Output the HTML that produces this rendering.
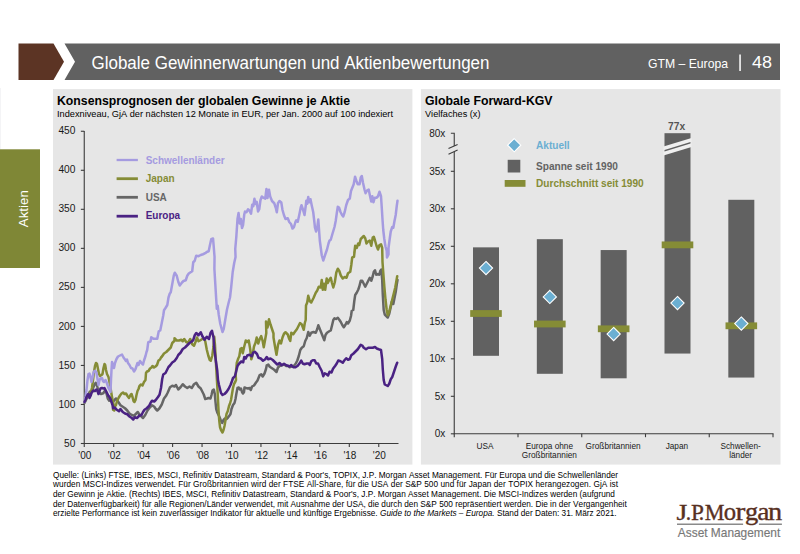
<!DOCTYPE html>
<html><head><meta charset="utf-8"><title>Globale Gewinnerwartungen und Aktienbewertungen</title>
<style>
html,body{margin:0;padding:0;background:#fff;}
body{width:800px;height:554px;overflow:hidden;position:relative;font-family:"Liberation Sans",sans-serif;}
svg{position:absolute;left:0;top:0;display:block;}
text{font-family:"Liberation Sans",sans-serif;font-kerning:none;}
.serif{font-family:"Liberation Serif",serif;}
.b{font-weight:bold;}
.ax{stroke:#3c3c3c;stroke-width:1.1;fill:none;}
.ln{fill:none;stroke-width:2.5;stroke-linejoin:round;stroke-linecap:round;}
</style></head><body>
<svg width="800" height="554" viewBox="0 0 800 554">
<rect x="0" y="0" width="800" height="554" fill="#ffffff"/>
<polygon points="18.5,43.5 53.5,43.5 64,61.75 53.5,80 18.5,80" fill="#5c3424"/>
<polygon points="64.5,43.5 780,43.5 780,80 64.5,80 75,61.75" fill="#616161"/>
<text x="91.5" y="68.7" font-size="17.5" fill="#ffffff" textLength="398" lengthAdjust="spacingAndGlyphs">Globale Gewinnerwartungen und Aktienbewertungen</text>
<text x="648" y="67.6" font-size="13" fill="#ffffff" textLength="80" lengthAdjust="spacingAndGlyphs">GTM – Europa</text>
<rect x="739.3" y="54.5" width="1.5" height="16.5" fill="#ffffff"/>
<text x="752" y="68" font-size="17.2" fill="#ffffff" textLength="20" lengthAdjust="spacingAndGlyphs">48</text>
<rect x="0" y="88" width="1" height="61.3" fill="#f4f4f6"/>
<rect x="0" y="149.3" width="40" height="118.7" fill="#7f8736"/>
<text transform="translate(27.5,227.2) rotate(-90)" font-size="13.3" fill="#ffffff" textLength="37" lengthAdjust="spacingAndGlyphs">Aktien</text>
<rect x="53" y="89.1" width="359.4" height="375.5" fill="#e6e6e6"/>
<rect x="420.9" y="89.1" width="359.6" height="375.5" fill="#e6e6e6"/>
<text x="57" y="104.8" font-size="12.3" class="b" fill="#000" textLength="293" lengthAdjust="spacingAndGlyphs">Konsensprognosen der globalen Gewinne je Aktie</text>
<text x="57" y="117.2" font-size="9.2" fill="#000" textLength="336" lengthAdjust="spacingAndGlyphs">Indexniveau, GjA der nächsten 12 Monate in EUR, per Jan. 2000 auf 100 indexiert</text>
<path class="ax" d="M84.25,130.95999999999998 V443.5 H398.5"/>
<path class="ax" d="M80.85,443.50 H84.25"/>
<text x="75.4" y="446.60" font-size="10.2" fill="#1a1a1a" text-anchor="end">50</text>
<path class="ax" d="M80.85,404.47 H84.25"/>
<text x="75.4" y="407.57" font-size="10.2" fill="#1a1a1a" text-anchor="end">100</text>
<path class="ax" d="M80.85,365.44 H84.25"/>
<text x="75.4" y="368.54" font-size="10.2" fill="#1a1a1a" text-anchor="end">150</text>
<path class="ax" d="M80.85,326.41 H84.25"/>
<text x="75.4" y="329.51" font-size="10.2" fill="#1a1a1a" text-anchor="end">200</text>
<path class="ax" d="M80.85,287.38 H84.25"/>
<text x="75.4" y="290.48" font-size="10.2" fill="#1a1a1a" text-anchor="end">250</text>
<path class="ax" d="M80.85,248.35 H84.25"/>
<text x="75.4" y="251.45" font-size="10.2" fill="#1a1a1a" text-anchor="end">300</text>
<path class="ax" d="M80.85,209.32 H84.25"/>
<text x="75.4" y="212.42" font-size="10.2" fill="#1a1a1a" text-anchor="end">350</text>
<path class="ax" d="M80.85,170.29 H84.25"/>
<text x="75.4" y="173.39" font-size="10.2" fill="#1a1a1a" text-anchor="end">400</text>
<path class="ax" d="M80.85,131.26 H84.25"/>
<text x="75.4" y="134.36" font-size="10.2" fill="#1a1a1a" text-anchor="end">450</text>
<path class="ax" d="M84.25,443.5 v3.4"/>
<text x="84.85" y="459.4" font-size="10" fill="#1a1a1a" text-anchor="middle">'00</text>
<path class="ax" d="M113.70,443.5 v3.4"/>
<text x="114.30" y="459.4" font-size="10" fill="#1a1a1a" text-anchor="middle">'02</text>
<path class="ax" d="M143.15,443.5 v3.4"/>
<text x="143.75" y="459.4" font-size="10" fill="#1a1a1a" text-anchor="middle">'04</text>
<path class="ax" d="M172.60,443.5 v3.4"/>
<text x="173.20" y="459.4" font-size="10" fill="#1a1a1a" text-anchor="middle">'06</text>
<path class="ax" d="M202.05,443.5 v3.4"/>
<text x="202.65" y="459.4" font-size="10" fill="#1a1a1a" text-anchor="middle">'08</text>
<path class="ax" d="M231.50,443.5 v3.4"/>
<text x="232.10" y="459.4" font-size="10" fill="#1a1a1a" text-anchor="middle">'10</text>
<path class="ax" d="M260.95,443.5 v3.4"/>
<text x="261.55" y="459.4" font-size="10" fill="#1a1a1a" text-anchor="middle">'12</text>
<path class="ax" d="M290.40,443.5 v3.4"/>
<text x="291.00" y="459.4" font-size="10" fill="#1a1a1a" text-anchor="middle">'14</text>
<path class="ax" d="M319.85,443.5 v3.4"/>
<text x="320.45" y="459.4" font-size="10" fill="#1a1a1a" text-anchor="middle">'16</text>
<path class="ax" d="M349.30,443.5 v3.4"/>
<text x="349.90" y="459.4" font-size="10" fill="#1a1a1a" text-anchor="middle">'18</text>
<path class="ax" d="M378.75,443.5 v3.4"/>
<text x="379.35" y="459.4" font-size="10" fill="#1a1a1a" text-anchor="middle">'20</text>
<path class="ln" stroke="#666666" d="M84.5,403 L87.5,397 L89.75,391.75 L92,391 L94.25,385 L95.75,382.75 L97.25,386.5 L98.75,391.75 L101,394 L103.25,393.25 L104.75,391 L106.25,392.5 L107.75,398.5 L109.25,400.75 L110.75,400 L112.25,403 L114.5,400 L116,398.5 L117.5,400.75 L119,403 L120.5,405.25 L122.75,406.75 L125,408.25 L127.25,410.5 L129.5,413.5 L131.75,415 L134,415.75 L136.25,413.5 L137.75,412 L139.25,414.25 L141.5,416.5 L143,418 L145.25,415 L147.5,410.5 L149.75,407.5 L152,405.25 L154.25,406.75 L155.75,409 L157.25,410.5 L159.5,408.25 L161.75,404.5 L164,398.5 L166.25,395.5 L167.75,392.5 L170,387.25 L172.25,385.75 L174.5,386.5 L176,385 L178.25,389.5 L180.5,387.25 L182.75,384.25 L185,386.5 L187.25,388 L189.5,386.5 L191.75,388 L194,384.25 L196.25,382.75 L198.5,386.5 L200.75,388.5 L202.25,391.5 L203.75,394.5 L205.25,399 L207,398.5 L208.5,398 L210.5,398.5 L211.5,395 L212.5,390.5 L213.8,389.5 L214.8,394 L215.5,402 L216.2,409 L217.5,413 L219,416 L220.5,419.5 L222.2,423 L223.5,420 L225,418.5 L226.5,419 L228,417.5 L229.5,415.5 L230.5,414 L231.5,409 L233,405 L234.5,403 L235.5,399 L236.5,393 L237.5,388 L238.8,387.5 L239.8,389.5 L241,388.5 L242,392 L243,393.5 L244,392 L244.5,387.5 L246,388 L248,388.5 L249.5,388 L250.8,390 L252,386.5 L254,385.5 L256,382.5 L257.5,380.5 L259.7,375 L261.2,374.25 L262.7,376.5 L264.5,373.5 L266,369 L266.75,365.25 L268.25,364.5 L269.75,366.75 L272,368.25 L274.25,369.75 L276.5,372 L278,367.5 L279.5,366 L281.75,365.25 L284,364.5 L286.25,366 L288.5,366 L289.5,367.25 L291.75,366.5 L294,365.75 L295.8,363.5 L297.3,360.5 L298.8,356 L300.3,350 L301.8,347.75 L303.75,346.25 L305.25,341 L306.75,338 L308.25,332 L309.75,335.75 L311.25,332.75 L313.5,332 L315.75,332.75 L317.25,329 L318.3,325.25 L319.8,329 L321.3,332.75 L322.8,336.5 L324.3,340.25 L325.5,335 L327,332.75 L329.25,331.25 L330.75,330.5 L332.25,324.5 L333.3,320 L334.5,318.25 L336,319 L337.8,317.8 L339.3,319.75 L340.8,322 L342.3,325 L343.8,327.25 L345.3,325 L346.8,322 L348,323.5 L349.8,320.5 L351,316 L351.75,310.75 L353.25,310 L354.3,301 L355.2,295 L356.7,292.75 L358.2,289.75 L359.25,286.75 L360.75,280.75 L362.25,280.75 L363.75,283.75 L365.25,286.75 L366.75,283.75 L368.25,280.75 L369.75,277.75 L371.25,280.75 L372.75,276.25 L373.8,271.75 L375,270.25 L376.2,274.75 L377.7,274 L379.2,274.75 L380.25,271 L381.3,269.5 L382.2,280 L382.8,295 L383.7,310 L384.75,314.5 L386.25,316 L387.75,317.5 L389.25,313.75 L390.75,307 L391.8,301.75 L393.3,304 L394.5,298 L395.7,292 L396.75,284.5 L397.5,280"/>
<path class="ln" stroke="#858c36" d="M84.5,402 L86,398 L87.5,395 L89,394 L90.5,393 L92,388 L93,380 L94,372 L95,366 L96,363 L97,364 L98,369 L99,374 L100,376 L101.5,375 L102.5,374 L103.5,368 L104.5,364 L105.2,365 L106,370 L107,374 L108.5,377 L109.5,382 L110.5,388 L111.5,394 L112.5,400 L113.5,404 L113,409.75 L114.2,410.5 L115.25,406 L116,405 L117,401 L118.5,398 L120,395.5 L121.5,393.5 L123,392.5 L124.5,394 L126,393.5 L127.5,396 L129,398 L130.5,395 L131.5,394 L132.5,397 L133.5,401 L134.5,402 L135.5,400 L136.5,395 L137.5,391 L138.5,389 L139.5,386 L141,384.5 L142.5,385.5 L144,382 L145.5,380 L146,373 L147,371.5 L148.5,371 L150,368.5 L151.5,367.5 L152.5,366 L154,367.5 L155.5,366.5 L157,365 L158.5,360.5 L160,359.5 L161,357.5 L162,356.5 L164,353.5 L166.25,352 L168.5,349.75 L170.75,347.5 L172.25,343 L174.5,340.75 L174.5,338.25 L176.75,340.5 L179,340.5 L181.25,339.75 L182.75,341.25 L184.25,339 L186.2,342 L188,342.75 L190.25,339 L192.2,344.25 L194,345.75 L195.5,342 L197,337.5 L198.5,341.25 L200,340.5 L202.25,339 L203.75,338.25 L205.25,341.25 L206.75,349.5 L208.25,355.5 L209.75,360 L210.8,360.75 L212.3,355.5 L213.5,346.5 L214.25,336.75 L215,345 L215.75,360 L217.5,390 L218,400 L218.5,410 L219.2,420 L220,427 L221,430 L222.5,432.5 L223.5,430 L224.5,426 L225.5,420 L226.5,414 L227.8,411 L229,406 L230,403.5 L231,400 L232,394 L233,388 L234,384 L235.2,382 L236,380 L235.7,375 L236.75,363 L238.25,358.5 L239.3,356.25 L240.5,348.75 L241.7,348 L242.75,353.25 L244.25,346.5 L245.75,340.5 L247.25,342 L248.75,340.5 L250.25,349.5 L251.3,359.25 L252.5,355.5 L254,346.5 L255.5,342.75 L256.7,337.5 L258.2,343.5 L259.7,339 L261.2,336 L262.7,341.25 L263.75,347.25 L265.25,339 L266.3,333 L266,321.5 L267.5,327.5 L269,319.25 L270.5,324.5 L272,329 L273.5,333.5 L273.5,337.5 L275,346.5 L276.5,354.75 L278,345 L279.5,340.5 L281,343.5 L282.5,337.5 L284,333.75 L285.5,332.25 L287.75,334.5 L289.25,339 L290.25,341 L291.3,332.75 L293.25,334.25 L294.75,332 L297,329 L298.5,326 L300,323 L301.8,324.5 L303.75,329.75 L304.8,323 L305.7,320 L306,305.5 L307.2,302.5 L308.25,295.75 L309.75,301 L311.25,302.5 L313.5,298 L315.75,292.75 L317.25,290.5 L318.75,286.75 L320.7,287.5 L321.75,280 L322.8,289.75 L324,283.75 L325.2,289.75 L326.7,278.5 L327.75,283 L329.25,280 L330.75,277.75 L331.8,282.25 L333.3,287.5 L334.8,282.25 L336.3,272.5 L337.8,268.75 L339.3,271 L340.8,275.5 L342.75,278.5 L344.7,277 L346.5,277.75 L348,273.25 L350.25,271.75 L351.3,265 L352.2,257.5 L354,256.75 L354.75,250 L354.3,252.95 L355.2,245.75 L356.7,248 L358.2,243.5 L359.25,245 L360.75,239 L362.25,237.5 L363.75,236 L365.25,238.25 L366.45,243.5 L368.25,241.25 L369.75,240.5 L371.25,245.75 L372.75,237.5 L373.8,236.75 L375,240.5 L376.5,245.75 L378,249.5 L379.5,245 L381,244.25 L382.2,248 L382.5,262 L383.25,272.5 L384.3,286 L385.5,299.5 L386.7,310 L387.75,315.25 L389.25,311.5 L390.75,305.5 L392.25,299.5 L393.75,293.5 L395.25,287.5 L396.3,281.5 L397.2,276.25"/>
<path class="ln" stroke="#a59be0" d="M84.5,402 L85.5,397 L86.5,390 L87.5,380 L88.5,374 L89.5,373.5 L90.5,377 L91.5,382 L92.5,378 L93.5,372.5 L94.5,371 L95.5,371 L96.5,373 L97.5,379 L98.5,385 L99.5,380 L100.5,378.5 L102,378 L103,381 L104,382 L105.5,380 L106.5,382 L107.5,385 L108.5,388 L109.5,390 L110.5,392 L111,380 L111.5,370 L112,362 L113,365 L114,368 L115,363 L116.5,359 L118,356.5 L120,355.5 L122,354.5 L123.5,357.5 L125,359.5 L126,361 L127,359.5 L128,363 L129.5,365 L131,368 L132.5,368.5 L134,371.5 L135.5,369 L136.5,366 L137.5,363 L138.5,365 L140,361 L141.5,363 L143,364.5 L144,360.5 L145.5,356 L146.5,352 L147.2,350 L148.25,342.25 L150.5,341.5 L151.25,337.25 L153.5,338.75 L157.25,338.75 L158.75,331.25 L160.25,330.5 L161.75,323 L163.25,315.5 L164,310.25 L165.5,308 L167.3,305 L168.5,297.5 L169.7,293.75 L170.75,292.25 L172.25,284 L173.75,275.75 L174.8,272.75 L176.75,275.75 L178.25,281.75 L179.75,285.5 L182,282.5 L183.5,281 L185.75,280.25 L187.25,275.75 L188.75,273.5 L191,272 L192.2,271.25 L193.25,262.25 L194.75,260.75 L195.8,257 L196.25,255.75 L198.5,256.2 L200.75,255 L203,254.25 L205.25,253.2 L206.75,252 L208.7,251.25 L209.75,246 L211.25,239.25 L213.05,238.5 L213.8,247.5 L214.55,256.95 L214.4,269 L215.3,284 L216.2,299 L216.8,308.75 L217.7,305.75 L218.75,314.75 L220.25,323.75 L221.45,328.25 L222.5,332 L223.7,329 L225.2,320 L227,309.5 L228.8,302 L230,297.5 L231.2,287 L232.7,272 L234.2,263 L235.55,257 L235.25,249 L236.3,237 L237.5,219 L238.55,213 L239.75,223.5 L240.8,219 L242,228 L243.05,225 L244.25,214.5 L245,211.5 L246.5,212.25 L248,209.25 L249.5,210.75 L251,213.75 L252.2,204.75 L253.25,206.25 L254.45,198.75 L255.5,204 L256.7,201.75 L258.05,211.5 L259.25,209.25 L260.45,200.25 L261.8,196.5 L263.75,198 L265.25,198.75 L266.45,189 L267.5,198 L269,189.75 L270.2,196.5 L272,201 L274.25,203.25 L275.75,207.75 L276.8,212.25 L278,203.25 L279.5,201 L281.3,202.5 L282.5,210 L284,215.25 L285.5,219 L287.75,218.25 L289.25,222 L291,224 L292.5,228.5 L294,227 L295.5,221.75 L296.25,220.25 L297.75,221.75 L299.25,215 L300.75,207.5 L301.5,205.25 L303,209.75 L304.5,215 L305.7,206 L306.3,200.75 L307.2,203.75 L308.25,197 L309.3,202.25 L310.5,199.25 L311.7,205.25 L313.2,212 L314.25,221 L315,227.75 L316.05,231.5 L317.25,227.75 L318.3,219.5 L319.05,230 L319.8,240.5 L321,249.5 L321.75,255.25 L323.25,260.5 L324.75,256 L327,249.5 L328.5,243.5 L329.55,240.5 L330.75,239.75 L332.25,234.5 L334.5,227 L335.7,221 L336.75,213.5 L337.8,206.75 L339,207.5 L340.5,212 L342,215 L343.2,216.5 L344.7,212 L346.2,205.25 L348,200 L349.8,198.5 L351,191 L352.5,187.25 L353.7,184.25 L355.05,176.75 L356.25,180.5 L357.75,184.25 L359.55,184.25 L360.75,177.5 L361.8,176 L363,182.75 L364.5,189.5 L365.55,193.25 L367.2,190.25 L368.7,189.5 L369.75,194.75 L371.25,201.5 L372.3,196.25 L373.5,202.25 L374.7,197.75 L376.5,197.75 L378,196.25 L379.5,191.75 L381,196.25 L381.75,207.5 L382.5,219.5 L383.25,230 L384.3,239 L385.5,246.5 L386.7,251 L387,257.5 L388.5,254.5 L388.5,248 L389.7,239 L390.75,231.5 L392.25,227 L393.3,227.75 L394.5,221 L395.7,215 L396.75,206 L397.5,200.75"/>
<path class="ln" stroke="#4a2283" d="M84.5,402 L85.5,400 L86.5,397 L87.5,395 L88.5,394 L89.5,398 L90.5,396 L91.5,393 L92.5,391.5 L93.5,390.5 L95,391 L96.5,389.5 L97.5,391 L98.5,394 L99.5,391 L100.5,388.5 L102,388 L103.5,388.5 L104.5,388 L105.5,390 L106.5,392 L107.5,394 L108.5,396 L109.5,397 L110.5,399 L111.5,402 L112.5,405 L113,408.25 L114.5,407.5 L116.75,409.75 L119,411.25 L120.5,409 L122.75,412 L125,413.5 L127.25,414.25 L129.5,416.5 L131.75,418 L133.25,419.5 L134.75,417.25 L137,418 L139.25,415.75 L141.5,415 L143,412 L144.5,409.75 L146.75,408.25 L149,406 L150.5,403 L152,400.75 L154.25,401.5 L155.75,400 L158,397 L159.5,394.75 L161,388 L162.2,379 L163.25,374.5 L165.5,373 L167,370 L168.5,367 L170,365.5 L172.25,362.5 L174.5,361 L176.75,358 L178.25,355 L180.5,352.75 L182.75,349 L185,347.5 L187.25,345.25 L189.5,343 L191.75,341.5 L193.25,340 L194.75,335.25 L196.25,333 L198.5,335.25 L200.75,332.25 L202.25,336 L204.5,339.75 L206.75,336.75 L209,339 L210.5,333 L212,330.75 L213.5,337.5 L214.25,348 L215.75,360 L217.25,370.5 L218,380 L219,385 L220,389 L221,393 L222.5,395 L224.5,394 L226.5,392 L228.5,389 L230.5,385 L232,381 L233,378 L234.8,376.5 L236,372 L237.5,366 L239,363.75 L241.25,361.5 L243.2,362.25 L244.25,357 L245.75,358.5 L247.25,355.5 L249.5,354.75 L251.75,356.25 L253.25,352.5 L254.75,351.75 L257,354 L258.5,357.75 L260.75,358.5 L263,360.75 L265.25,359.25 L266.75,357 L268.25,359.25 L270.5,358.5 L272.75,360 L275,362.25 L277.25,364.5 L279.5,363 L281.75,365.25 L284,363.75 L286.25,365.25 L288.5,366 L289.5,366.5 L291.3,365 L293.25,367.25 L295.5,367.25 L297.75,365.75 L300,362.75 L301.2,360.5 L302.7,363.5 L304.5,364.25 L306.75,363.5 L308.7,363.5 L309.75,365 L311.25,361.25 L312.75,360.2 L314.7,360.2 L316.2,363.5 L318,363.5 L319.8,367.25 L321.75,371 L323.25,376.25 L324.75,373.25 L326.25,374 L328.05,375.5 L329.55,371.75 L331.5,372.5 L333,368.75 L335.25,365.75 L336.75,363.5 L338.25,360.5 L340.5,361.25 L342.75,362.75 L344.25,360.5 L346.2,358.25 L348,359.75 L349.8,359 L351.3,355.25 L353.25,353.75 L355.5,351.5 L357.75,349.25 L359.25,347 L360.75,344.75 L362.25,345.5 L363.75,347.75 L366,349.25 L368.25,347.75 L370.5,347.75 L372.75,347.75 L375,347 L376.8,348.5 L378.75,349.25 L381,350 L382.2,359 L382.8,369.5 L383.7,380 L384.75,384.5 L386.25,385.25 L387.75,386 L389.25,383.75 L390.75,379.25 L392.25,377 L393.75,372.5 L395.25,368 L396.3,365 L397.2,362.75"/>
<path d="M116.6,160.0 H137.9" stroke="#a59be0" stroke-width="2.3" fill="none"/>
<text x="145.7" y="163.70" font-size="10" class="b" fill="#a59be0">Schwellenländer</text>
<path d="M116.6,178.7 H137.9" stroke="#858c36" stroke-width="2.8" fill="none"/>
<text x="145.7" y="182.10" font-size="10" class="b" fill="#858c36">Japan</text>
<path d="M116.6,197.3 H137.9" stroke="#666666" stroke-width="2.8" fill="none"/>
<text x="145.7" y="200.50" font-size="10" class="b" fill="#666666">USA</text>
<path d="M116.6,216.2 H137.9" stroke="#4a2283" stroke-width="2.8" fill="none"/>
<text x="145.7" y="218.90" font-size="10" class="b" fill="#4a2283">Europa</text>
<text x="425" y="104.8" font-size="12.3" class="b" fill="#000" textLength="127.5" lengthAdjust="spacingAndGlyphs">Globale Forward-KGV</text>
<text x="425" y="117.2" font-size="9.2" fill="#000" textLength="55.5" lengthAdjust="spacingAndGlyphs">Vielfaches (x)</text>
<path class="ax" d="M450.85,133.2 H454.25 V146"/>
<path class="ax" d="M454.25,152 V433.8 H773.5"/>
<path class="ax" d="M448.5,148.6 L457.6,144.4 M448.5,154.2 L457.6,150"/>
<path class="ax" d="M450.85,433.80 H454.25"/>
<text x="445.3" y="437.40" font-size="10" fill="#1a1a1a" text-anchor="end">0x</text>
<path class="ax" d="M450.85,396.30 H454.25"/>
<text x="445.3" y="399.90" font-size="10" fill="#1a1a1a" text-anchor="end">5x</text>
<path class="ax" d="M450.85,358.80 H454.25"/>
<text x="445.3" y="362.40" font-size="10" fill="#1a1a1a" text-anchor="end">10x</text>
<path class="ax" d="M450.85,321.30 H454.25"/>
<text x="445.3" y="324.90" font-size="10" fill="#1a1a1a" text-anchor="end">15x</text>
<path class="ax" d="M450.85,283.80 H454.25"/>
<text x="445.3" y="287.40" font-size="10" fill="#1a1a1a" text-anchor="end">20x</text>
<path class="ax" d="M450.85,246.30 H454.25"/>
<text x="445.3" y="249.90" font-size="10" fill="#1a1a1a" text-anchor="end">25x</text>
<path class="ax" d="M450.85,208.80 H454.25"/>
<text x="445.3" y="212.40" font-size="10" fill="#1a1a1a" text-anchor="end">30x</text>
<path class="ax" d="M450.85,171.30 H454.25"/>
<text x="445.3" y="174.90" font-size="10" fill="#1a1a1a" text-anchor="end">35x</text>
<text x="445.3" y="136.8" font-size="10" fill="#1a1a1a" text-anchor="end">80x</text>
<path class="ax" d="M454.25,433.8 v3.4"/>
<path class="ax" d="M518.00,433.8 v3.4"/>
<path class="ax" d="M581.75,433.8 v3.4"/>
<path class="ax" d="M645.50,433.8 v3.4"/>
<path class="ax" d="M709.25,433.8 v3.4"/>
<path class="ax" d="M773.00,433.8 v3.4"/>
<rect x="473.00" y="247.35" width="26" height="108.45" fill="#616161"/>
<rect x="536.83" y="239.18" width="26" height="134.62" fill="#616161"/>
<rect x="600.66" y="250.05" width="26" height="128.25" fill="#616161"/>
<rect x="664.49" y="133.20" width="26" height="220.35" fill="#616161"/>
<rect x="728.32" y="199.80" width="26" height="177.75" fill="#616161"/>
<polygon points="663.49,146.5 691.49,137.9 691.49,146.9 663.49,155.5" fill="#f0f0f0"/>
<polygon points="664.49,149.9 690.49,141.9 690.49,143.4 664.49,151.4" fill="#616161"/>
<rect x="470.20" y="310.10" width="31.6" height="6.8" fill="#858c36"/>
<rect x="534.03" y="320.60" width="31.6" height="6.8" fill="#858c36"/>
<rect x="597.86" y="325.40" width="31.6" height="6.8" fill="#858c36"/>
<rect x="661.69" y="241.47" width="31.6" height="6.8" fill="#858c36"/>
<rect x="725.52" y="322.40" width="31.6" height="6.8" fill="#858c36"/>
<polygon points="486.00,261.45 492.60,268.05 486.00,274.65 479.40,268.05" fill="#6bafd2" stroke="#ffffff" stroke-width="1.1"/>
<polygon points="549.83,290.32 556.43,296.93 549.83,303.53 543.23,296.93" fill="#6bafd2" stroke="#ffffff" stroke-width="1.1"/>
<polygon points="613.66,327.45 620.26,334.05 613.66,340.65 607.06,334.05" fill="#6bafd2" stroke="#ffffff" stroke-width="1.1"/>
<polygon points="677.49,296.48 684.09,303.08 677.49,309.68 670.89,303.08" fill="#6bafd2" stroke="#ffffff" stroke-width="1.1"/>
<polygon points="741.32,316.95 747.92,323.55 741.32,330.15 734.72,323.55" fill="#6bafd2" stroke="#ffffff" stroke-width="1.1"/>
<text x="676.59" y="130" font-size="10.2" class="b" fill="#555" text-anchor="middle">77x</text>
<polygon points="514.2,138.6 520.8,145.2 514.2,151.8 507.6,145.2" fill="#6bafd2" stroke="#ffffff" stroke-width="1.1"/>
<text x="536" y="149.2" font-size="10.1" class="b" fill="#6bafd2">Aktuell</text>
<rect x="507.7" y="159.8" width="12.6" height="12.7" fill="#616161"/>
<text x="536" y="169.6" font-size="10.1" class="b" fill="#636363">Spanne seit 1990</text>
<rect x="504.7" y="180" width="20.8" height="6.8" fill="#858c36"/>
<text x="536" y="187.4" font-size="10.1" class="b" fill="#858c36">Durchschnitt seit 1990</text>
<text x="484.93" y="448.50" font-size="8.25" fill="#1a1a1a" text-anchor="middle">USA</text>
<text x="549.38" y="448.50" font-size="8.25" fill="#1a1a1a" text-anchor="middle">Europa ohne</text>
<text x="549.38" y="457.70" font-size="8.25" fill="#1a1a1a" text-anchor="middle">Großbritannien</text>
<text x="613.12" y="448.50" font-size="8.25" fill="#1a1a1a" text-anchor="middle">Großbritannien</text>
<text x="676.88" y="448.50" font-size="8.25" fill="#1a1a1a" text-anchor="middle">Japan</text>
<text x="740.62" y="448.50" font-size="8.25" fill="#1a1a1a" text-anchor="middle">Schwellen-</text>
<text x="740.62" y="457.70" font-size="8.25" fill="#1a1a1a" text-anchor="middle">länder</text>
<text x="53" y="477.50" font-size="8.25" fill="#000">Quelle: (Links) FTSE, IBES, MSCI, Refinitiv Datastream, Standard &amp; Poor's, TOPIX, J.P. Morgan Asset Management. Für Europa und die Schwellenländer</text>
<text x="53" y="487.23" font-size="8.25" fill="#000" textLength="565" lengthAdjust="spacing">wurden MSCI-Indizes verwendet. Für Großbritannien wird der FTSE All-Share, für die USA der S&amp;P 500 und für Japan der TOPIX herangezogen. GjA ist</text>
<text x="53" y="496.96" font-size="8.25" fill="#000">der Gewinn je Aktie. (Rechts) IBES, MSCI, Refinitiv Datastream, Standard &amp; Poor's, J.P. Morgan Asset Management. Die MSCI-Indizes werden (aufgrund</text>
<text x="53" y="506.69" font-size="8.25" fill="#000">der Datenverfügbarkeit) für alle Regionen/Länder verwendet, mit Ausnahme der USA, die durch den S&amp;P 500 repräsentiert werden. Die in der Vergangenheit</text>
<text x="53" y="516.42" font-size="8.25" fill="#000">erzielte Performance ist kein zuverlässiger Indikator für aktuelle und künftige Ergebnisse. <tspan font-style="italic">Guide to the Markets – Europa.</tspan> Stand der Daten: 31. März 2021.</text>
<g class="serif" fill="#58301f" stroke="#58301f" stroke-width="0.35">
<text class="serif" transform="translate(676.42,520.0) scale(1.206,1)" font-size="23">J</text>
<text class="serif" transform="translate(685.67,520.0) scale(0.929,1)" font-size="23">.</text>
<text class="serif" transform="translate(690.93,520.0) scale(1.007,1)" font-size="23">P</text>
<text class="serif" transform="translate(698.87,520.0) scale(0.929,1)" font-size="23">.</text>
<text class="serif" transform="translate(704.86,520.0) scale(0.965,1)" font-size="23">M</text>
<text class="serif" transform="translate(723.81,520.0) scale(0.980,1)" font-size="25.2">o</text>
<text class="serif" transform="translate(735.48,520.0) scale(1.175,1)" font-size="25.2">r</text>
<text class="serif" transform="translate(745.09,520.0) scale(1.051,1)" font-size="25.2">g</text>
<text class="serif" transform="translate(757.19,520.0) scale(1.092,1)" font-size="25.2">a</text>
<text class="serif" transform="translate(767.99,520.0) scale(1.126,1)" font-size="25.2">n</text>
</g>
<path d="M677,524.2 H743.1 M758.9,524.2 H781.9" stroke="#8a8a8a" stroke-width="1.6" fill="none"/>
<text x="677.8" y="536.9" font-size="12.4" fill="#787878" stroke="#787878" stroke-width="0.15" textLength="102.5" lengthAdjust="spacingAndGlyphs">Asset Management</text>
</svg></body></html>
